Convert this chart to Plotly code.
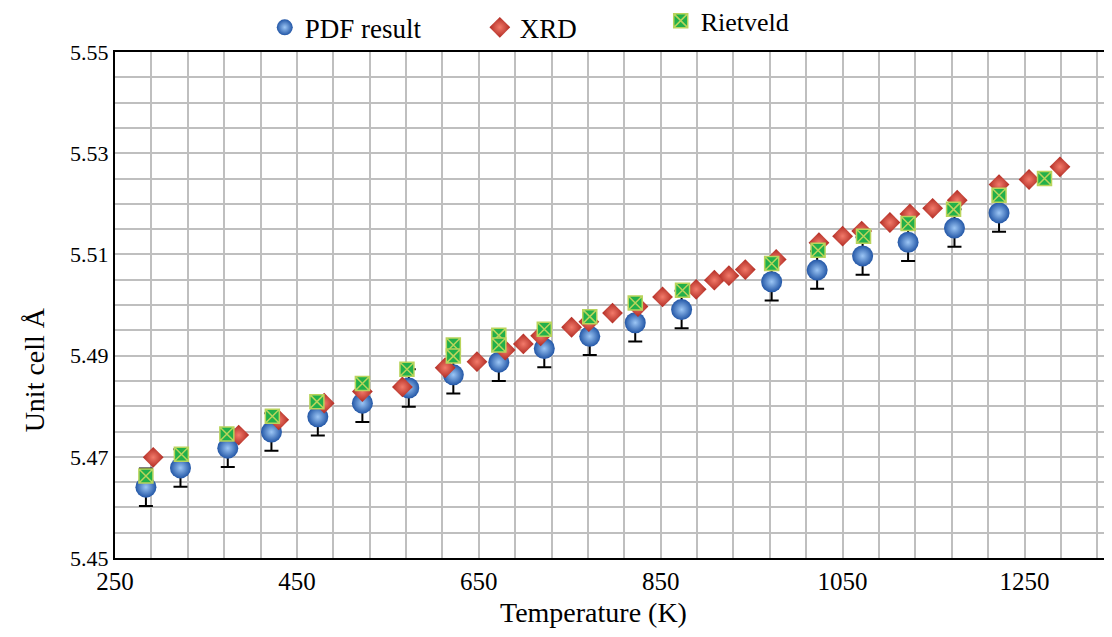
import plotly.graph_objects as go

# PDF result (K, Å) with error bars
pdf_t = [284, 322, 374, 422, 473, 522, 573, 622, 672, 722, 772, 822, 873,
         972, 1022, 1072, 1122, 1173, 1222]
pdf_a = [5.4640, 5.4678, 5.4717, 5.4749, 5.4779, 5.4806, 5.4836, 5.4862, 5.4887,
         5.4914, 5.4938, 5.4965, 5.4991, 5.5046, 5.5069, 5.5097, 5.5124, 5.5152,
         5.5182]
pdf_err = [0.0037] * len(pdf_t)

# XRD
xrd_t = [292, 386, 430, 480, 522, 566, 613, 648, 679, 699, 718, 752, 771, 797,
         825, 852, 889, 909, 925, 943, 977, 1024, 1050, 1071, 1102, 1124, 1149,
         1176, 1222, 1255, 1289]
xrd_a = [5.4699, 5.4743, 5.4773, 5.4806, 5.4829, 5.4838, 5.4876, 5.4888, 5.4911,
         5.4923, 5.4939, 5.4956, 5.4967, 5.4984, 5.4997, 5.5016, 5.5031, 5.5049,
         5.5058, 5.5070, 5.5090, 5.5123, 5.5136, 5.5146, 5.5163, 5.5180, 5.5191,
         5.5207, 5.5238, 5.5248, 5.5273]

# Rietveld
riet_t = [284, 323, 373, 423, 472, 522, 571, 622, 622, 672, 672, 722, 772, 822,
          874, 972, 1023, 1073, 1122, 1172, 1222, 1272]
riet_a = [5.4662, 5.4705, 5.4745, 5.4780, 5.4809, 5.4845, 5.4873, 5.4921, 5.4899,
          5.4940, 5.4921, 5.4952, 5.4977, 5.5004, 5.5029, 5.5082, 5.5108, 5.5136,
          5.5161, 5.5189, 5.5217, 5.5250]

font = "Liberation Serif, Times New Roman, serif"

fig = go.Figure()
fig.add_trace(go.Scatter(
    x=pdf_t, y=pdf_a, mode="markers", name="PDF result", legend="legend",
    marker=dict(symbol="circle", size=21, color="#2256a6",
                gradient=dict(type="radial", color="#9cc6f5"),
                line=dict(width=0)),
    error_y=dict(type="data", array=pdf_err, color="black", thickness=2, width=7),
))
fig.add_trace(go.Scatter(
    x=xrd_t, y=xrd_a, mode="markers", name="XRD", legend="legend2",
    marker=dict(symbol="diamond", size=16, color="#b02a22",
                gradient=dict(type="radial", color="#f27a6a"),
                line=dict(width=0)),
))
fig.add_trace(go.Scatter(
    x=riet_t, y=riet_a, mode="markers", name="Rietveld", legend="legend3",
    marker=dict(symbol="square-x", size=14, color="#22b04a",
                line=dict(width=1.5, color="#b9d45c")),
))

leg = dict(xanchor="left", yref="container", yanchor="middle",
           bgcolor="rgba(0,0,0,0)", itemsizing="trace")

# page body has an 8px margin, so the figure is laid out 8px up/left
fig.update_layout(
    width=1112, height=637,
    margin=dict(l=107, r=0, t=44, b=87, autoexpand=False),
    paper_bgcolor="white", plot_bgcolor="white",
    font=dict(family=font, color="black", size=22),
    showlegend=True,
    legend=dict(leg, x=0.149, y=0.969, font=dict(size=27)),
    legend2=dict(leg, x=0.363, y=0.969, font=dict(size=27)),
    legend3=dict(leg, x=0.543, y=0.980, font=dict(size=26)),
    xaxis=dict(range=[250, 1355], tick0=250, dtick=200, showgrid=True,
               gridcolor="#bfbfbf", gridwidth=2, automargin=False,
               minor=dict(dtick=40, tick0=250, showgrid=True, gridcolor="#bfbfbf", gridwidth=2),
               showline=True, linecolor="black", linewidth=2, mirror=True,
               ticks="", tickfont=dict(size=25), zeroline=False),
    yaxis=dict(range=[5.45, 5.55], tick0=5.45, dtick=0.02, tickformat=".2f",
               showgrid=True, gridcolor="#bfbfbf", gridwidth=2, automargin=False,
               minor=dict(dtick=0.005, showgrid=True, gridcolor="#bfbfbf", gridwidth=2),
               showline=True, linecolor="black", linewidth=2,
               ticks="", tickfont=dict(size=22), zeroline=False),
    annotations=[
        dict(text="Temperature (K)", xref="paper", yref="paper", x=0.476, y=-0.107,
             xanchor="center", yanchor="middle", showarrow=False, font=dict(size=28)),
        dict(text="Unit cell Å", xref="paper", yref="paper", x=-0.08, y=0.372,
             xanchor="center", yanchor="middle", textangle=-90, showarrow=False,
             font=dict(size=28)),
    ],
)

fig.write_html("out.html")
